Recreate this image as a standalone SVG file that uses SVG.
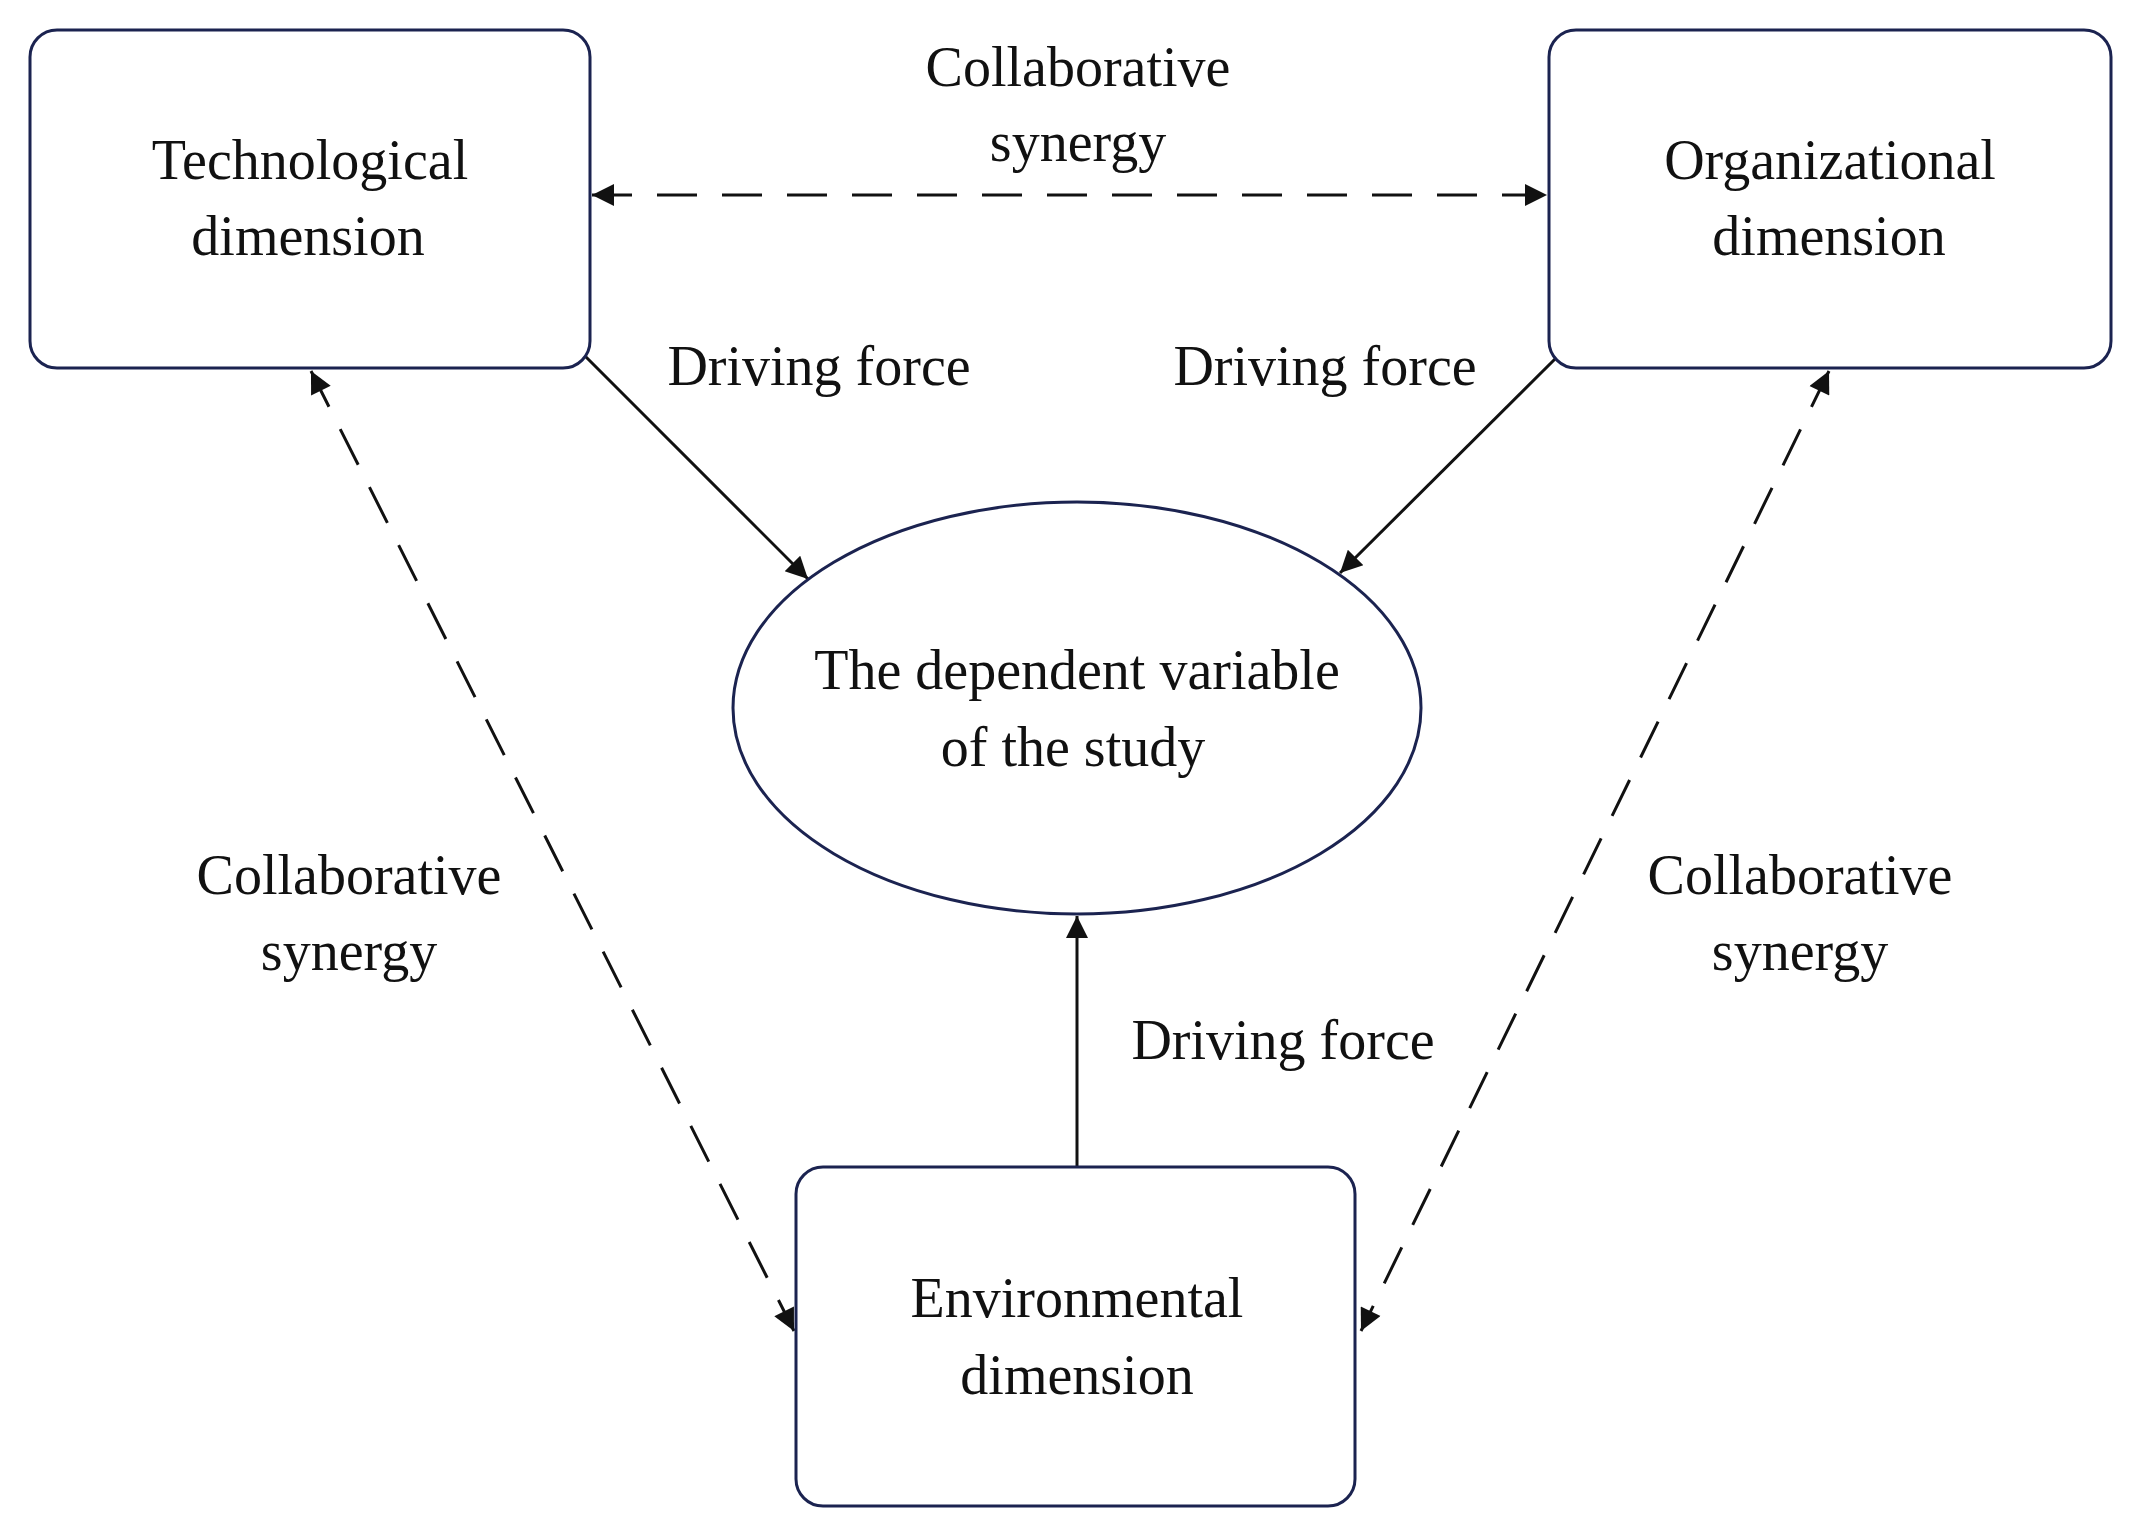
<svg xmlns="http://www.w3.org/2000/svg" width="2129" height="1529" viewBox="0 0 2129 1529">
<style>
.box{fill:#fff;stroke:#1b2350;stroke-width:3}
.t{font-family:"Liberation Serif",serif;font-size:56px;fill:#111;text-anchor:middle}
.s{stroke:#111;stroke-width:3;fill:none}
.d{stroke:#111;stroke-width:3;fill:none;stroke-dasharray:40 25}
</style>
<defs>
<marker id="a" viewBox="0 0 10 10" refX="10" refY="5" markerWidth="9" markerHeight="9" orient="auto-start-reverse" markerUnits="userSpaceOnUse"><path d="M0,0 L10,5 L0,10 z" fill="#111" transform="scale(1)"/></marker>
<marker id="b" viewBox="0 0 10 10" refX="10" refY="5" markerWidth="26" markerHeight="22" orient="auto-start-reverse" markerUnits="userSpaceOnUse"><path d="M0,0 L10,5 L0,10 z" fill="#111"/></marker>
</defs>
<rect width="2129" height="1529" fill="#fff"/>
<g id="connectors">
<line class="d" x1="592" y1="195" x2="1547" y2="195" marker-start="url(#b)" marker-end="url(#b)"/>
<line class="d" x1="311" y1="371" x2="794" y2="1331" marker-start="url(#b)" marker-end="url(#b)"/>
<line class="d" x1="1829" y1="371" x2="1361" y2="1331" marker-start="url(#b)" marker-end="url(#b)"/>
<line class="s" x1="584" y1="355" x2="808" y2="579" marker-end="url(#b)"/>
<line class="s" x1="1556" y1="358" x2="1340" y2="573" marker-end="url(#b)"/>
<line class="s" x1="1077" y1="1167" x2="1077" y2="916" marker-end="url(#b)"/>
<text class="t" x="1078" y="86">Collaborative</text>
<text class="t" x="1078" y="161">synergy</text>
<text class="t" x="819" y="385">Driving force</text>
<text class="t" x="1325" y="385">Driving force</text>
<text class="t" x="1283" y="1059">Driving force</text>
<text class="t" x="349" y="894">Collaborative</text>
<text class="t" x="349" y="970">synergy</text>
<text class="t" x="1800" y="894">Collaborative</text>
<text class="t" x="1800" y="970">synergy</text>
</g>
<g id="tech"><rect class="box" x="30" y="30" width="560" height="338" rx="27"/>
<text class="t" x="310" y="179">Technological</text><text class="t" x="308" y="255">dimension</text></g>
<g id="org"><rect class="box" x="1549" y="30" width="562" height="338" rx="27"/>
<text class="t" x="1830" y="179">Organizational</text><text class="t" x="1829" y="255">dimension</text></g>
<g id="env"><rect class="box" x="796" y="1167" width="559" height="339" rx="27"/>
<text class="t" x="1077" y="1317">Environmental</text><text class="t" x="1077" y="1394">dimension</text></g>
<g id="dep"><ellipse class="box" cx="1077" cy="708" rx="344" ry="206"/>
<text class="t" x="1077" y="689">The dependent variable</text><text class="t" x="1073" y="766">of the study</text></g>
</svg>
